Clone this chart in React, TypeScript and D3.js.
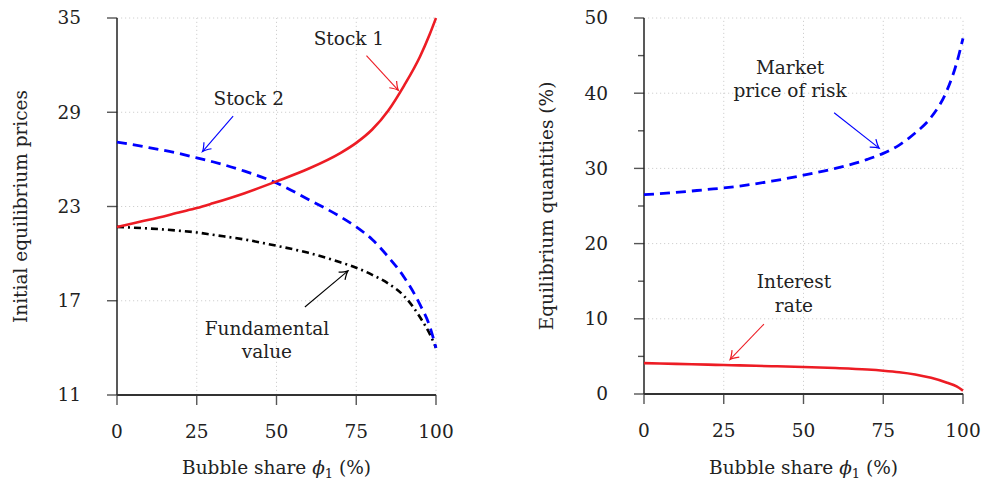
import React, { useEffect, useRef } from 'react';
import * as d3 from 'd3';

// bubble share phi_1 (%)
const shares = [0, 10, 20, 25, 30, 40, 50, 60, 70, 75, 80, 85, 90, 95, 98, 100];

// left panel: initial equilibrium prices
const stock1 = [21.7, 22.15, 22.65, 22.9, 23.2, 23.85, 24.6, 25.4, 26.4, 27.05, 27.9, 29.1, 30.7, 32.55, 33.95, 35.0];
const stock2 = [27.1, 26.75, 26.35, 26.1, 25.85, 25.25, 24.5, 23.45, 22.35, 21.7, 20.9, 19.8, 18.5, 16.75, 15.4, 14.0];
const fundamental = [21.7, 21.6, 21.45, 21.35, 21.2, 20.9, 20.5, 20.05, 19.45, 19.1, 18.65, 18.1, 17.3, 15.95, 14.9, 14.0];

// right panel: equilibrium quantities (%)
const priceOfRisk = [26.5, 26.8, 27.2, 27.4, 27.65, 28.3, 29.1, 30.0, 31.2, 32.0, 33.1, 34.7, 36.8, 40.4, 44.0, 47.3];
const interestRate = [4.1, 4.0, 3.9, 3.85, 3.8, 3.7, 3.6, 3.45, 3.25, 3.1, 2.9, 2.6, 2.15, 1.5, 1.0, 0.45];

const xTicks = [0, 25, 50, 75, 100];
const leftYTicks = [11, 17, 23, 29, 35];
const rightYTicks = [0, 10, 20, 30, 40, 50];
const rightMinorTicks = [5, 15, 25, 35, 45];

const RED = '#ed1c24';
const BLUE = '#0000ff';
const FONT = '"DejaVu Serif", "Liberation Serif", serif';
const FS = 18.5;

const App = () => {
  const ref = useRef<SVGSVGElement>(null);

  useEffect(() => {
    const svg = d3.select(ref.current);
    svg.selectAll('*').remove();

    const defs = svg.append('defs');
    [['arRed', RED], ['arBlue', BLUE], ['arBlack', '#000']].forEach(([id, c]) => {
      defs.append('marker')
        .attr('id', id)
        .attr('viewBox', '-10 -6 12 12')
        .attr('refX', 0).attr('refY', 0)
        .attr('markerWidth', 12).attr('markerHeight', 12)
        .attr('markerUnits', 'userSpaceOnUse')
        .attr('orient', 'auto')
        .append('path')
        .attr('d', 'M-8,-5 Q-3,-1 0,0 Q-3,1 -8,5')
        .attr('fill', 'none')
        .attr('stroke', c)
        .attr('stroke-width', 1.2);
    });

    const panel = (
      x0: number, x1: number, yBottom: number, yTop: number,
      yDomain: [number, number], yTicks: number[], minor: number[],
      yTitle: string, titleX: number
    ) => {
      const x = d3.scaleLinear().domain([0, 100]).range([x0, x1]);
      const y = d3.scaleLinear().domain(yDomain).range([yBottom, yTop]);
      const g = svg.append('g');

      // grid
      g.selectAll('.gx').data(xTicks.slice(1)).enter().append('line')
        .attr('x1', d => x(d)).attr('x2', d => x(d))
        .attr('y1', yBottom).attr('y2', yTop)
        .attr('stroke', '#d0d0d0').attr('stroke-width', 1).attr('stroke-dasharray', '1.2,2.8');
      g.selectAll('.gy').data(yTicks.slice(1)).enter().append('line')
        .attr('x1', x0).attr('x2', x1)
        .attr('y1', d => y(d)).attr('y2', d => y(d))
        .attr('stroke', '#d0d0d0').attr('stroke-width', 1).attr('stroke-dasharray', '1.2,2.8');

      // ticks
      g.selectAll('.ty').data(yTicks).enter().append('line')
        .attr('x1', x0 - 10).attr('x2', x0)
        .attr('y1', d => y(d)).attr('y2', d => y(d))
        .attr('stroke', '#555').attr('stroke-width', 1.4);
      g.selectAll('.tm').data(minor).enter().append('line')
        .attr('x1', x0 - 6).attr('x2', x0)
        .attr('y1', d => y(d)).attr('y2', d => y(d))
        .attr('stroke', '#555').attr('stroke-width', 1.4);
      g.selectAll('.tx').data(xTicks).enter().append('line')
        .attr('x1', d => x(d)).attr('x2', d => x(d))
        .attr('y1', yBottom).attr('y2', yBottom + 10)
        .attr('stroke', '#555').attr('stroke-width', 1.4);

      // axis lines
      g.append('line').attr('x1', x0).attr('x2', x0).attr('y1', yTop).attr('y2', yBottom)
        .attr('stroke', '#222').attr('stroke-width', 1.5);
      g.append('line').attr('x1', x0).attr('x2', x1).attr('y1', yBottom).attr('y2', yBottom)
        .attr('stroke', '#333').attr('stroke-width', 2);

      // tick labels
      g.selectAll('.ly').data(yTicks).enter().append('text')
        .attr('x', x0 - 36).attr('y', d => y(d)).attr('dy', '0.35em')
        .attr('text-anchor', 'end').attr('font-size', FS).attr('font-family', FONT).attr('fill', '#222')
        .text(d => d);
      g.selectAll('.lx').data(xTicks).enter().append('text')
        .attr('x', d => x(d)).attr('y', yBottom + 43)
        .attr('text-anchor', 'middle').attr('font-size', FS).attr('font-family', FONT).attr('fill', '#222')
        .text(d => d);

      // axis titles
      g.append('text')
        .attr('transform', `translate(${titleX},${(yTop + yBottom) / 2}) rotate(-90)`)
        .attr('text-anchor', 'middle').attr('font-size', FS).attr('font-family', FONT).attr('fill', '#222')
        .text(yTitle);
      const xt = g.append('text')
        .attr('x', (x0 + x1) / 2).attr('y', 474)
        .attr('text-anchor', 'middle').attr('font-size', FS).attr('font-family', FONT).attr('fill', '#222');
      xt.append('tspan').text('Bubble share ');
      xt.append('tspan').attr('font-style', 'italic').text('\u03d5');
      xt.append('tspan').attr('font-size', 13).attr('dy', 4).text('1');
      xt.append('tspan').attr('dy', -4).text(' (%)');

      return { g, x, y };
    };

    const drawLine = (p: any, vals: number[], color: string, width: number, dash: string | null) => {
      const line = d3.line<number>()
        .x((_, i) => p.x(shares[i]))
        .y(d => p.y(d))
        .curve(d3.curveMonotoneX);
      p.g.append('path')
        .attr('d', line(vals))
        .attr('fill', 'none')
        .attr('stroke', color)
        .attr('stroke-width', width)
        .attr('stroke-dasharray', dash);
    };

    const label = (p: any, lines: string[], tx: number, ty: number, dyLine: number) => {
      const t = p.g.append('text')
        .attr('text-anchor', 'middle').attr('font-size', FS).attr('font-family', FONT).attr('fill', '#222');
      lines.forEach((s, i) => {
        t.append('tspan').attr('x', p.x(tx)).attr('y', p.y(ty) + i * dyLine).text(s);
      });
    };

    const arrow = (p: any, ax: number, ay: number, bx: number, by: number, color: string, marker: string) => {
      p.g.append('line')
        .attr('x1', p.x(ax)).attr('y1', p.y(ay))
        .attr('x2', p.x(bx)).attr('y2', p.y(by))
        .attr('stroke', color).attr('stroke-width', 1.1)
        .attr('marker-end', `url(#${marker})`);
    };

    const L = panel(117, 436, 395, 18, [11, 35], leftYTicks, [], 'Initial equilibrium prices', 27);
    drawLine(L, fundamental, '#000', 2.6, '7,4,2,4');
    drawLine(L, stock2, BLUE, 2.8, '10,6');
    drawLine(L, stock1, RED, 2.6, null);
    label(L, ['Stock 1'], 72.7, 33.3, 0);
    arrow(L, 78.2, 32.6, 88.2, 30.4, RED, 'arRed');
    label(L, ['Stock 2'], 41.3, 29.45, 0);
    arrow(L, 36.4, 28.75, 26.8, 26.5, BLUE, 'arBlue');
    label(L, ['Fundamental', 'value'], 47.0, 14.85, 23);
    arrow(L, 58.9, 16.6, 72.4, 18.9, '#000', 'arBlack');

    const R = panel(644, 963, 394, 18, [0, 50], rightYTicks, rightMinorTicks, 'Equilibrium quantities (%)', 553);
    drawLine(R, priceOfRisk, BLUE, 2.8, '10,6');
    drawLine(R, interestRate, RED, 2.6, null);
    label(R, ['Market', 'price of risk'], 45.8, 42.5, 23);
    arrow(R, 59.6, 37.4, 73.7, 32.7, BLUE, 'arBlue');
    label(R, ['Interest', 'rate'], 47.0, 14.1, 24);
    arrow(R, 37.6, 9.3, 27.0, 4.6, RED, 'arRed');
  }, []);

  return (
    <svg ref={ref} width={983} height={484}
      style={{ position: 'absolute', left: 0, top: 0, background: '#fff' }} />
  );
};

export default App;
